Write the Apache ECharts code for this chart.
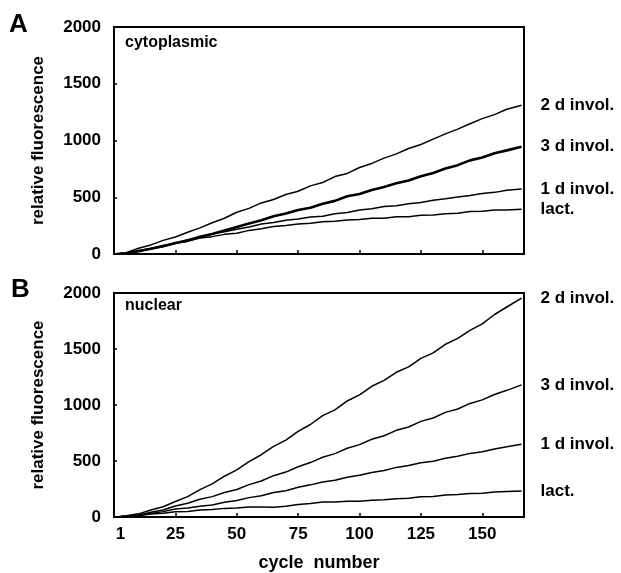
<!DOCTYPE html>
<html><head><meta charset="utf-8">
<script src="https://cdn.jsdelivr.net/npm/echarts@6/dist/echarts.min.js"></script>
<style>html,body{margin:0;padding:0;background:#fff}#c{width:621px;height:573px}</style>
</head><body><div id="c"></div>
<script>
const cycles = [1,5,10,15,20,25,30,35,40,45,50,55,60,65,70,75,80,85,90,95,100,105,110,115,120,125,130,135,140,145,150,155,160,166];
const seriesNames = ['2 d invol.','3 d invol.','1 d invol.','lact.'];
const yTicks = [0,500,1000,1500,2000];
const xTickLabels = ['1','25','50','75','100','125','150'];

// Panel A: cytoplasmic
const cyto2d  = [0,12,50,80,120,150,192,230,275,315,368,402,450,480,524,553,600,630,682,710,762,798,845,882,930,965,1012,1058,1100,1148,1193,1228,1275,1310];
const cyto3d  = [0,6,24,47,68,97,118,152,176,208,238,268,298,333,356,388,408,443,468,508,528,563,590,623,648,685,713,753,783,825,850,888,913,945];
const cyto1d  = [0,8,32,48,75,95,125,148,178,196,218,238,265,278,298,308,325,333,355,366,388,398,418,426,443,453,473,486,503,516,533,543,562,573];
const cytoLact= [0,7,24,47,66,94,113,140,153,173,183,208,222,243,252,265,270,285,288,300,303,315,316,328,328,341,343,355,360,374,376,388,388,395];

// Panel B: nuclear
const nuc2d  = [0,12,28,63,92,138,182,244,296,364,421,494,556,630,686,765,826,905,956,1036,1090,1167,1220,1292,1340,1416,1465,1542,1595,1667,1725,1808,1875,1955];
const nuc3d  = [0,6,18,43,62,98,122,158,182,219,246,289,321,369,401,449,486,534,566,614,646,694,726,774,804,854,884,934,964,1014,1046,1094,1131,1180];
const nuc1d  = [0,6,14,32,48,72,80,97,108,131,148,173,190,218,235,265,287,313,329,355,372,398,415,443,459,485,497,525,542,568,582,608,627,650];
const nucLact= [0,6,13,27,33,47,50,62,66,77,80,90,90,86,96,112,120,134,133,140,140,150,153,164,168,180,183,197,200,210,213,224,228,232];

const FONT = '"Liberation Sans", Arial, sans-serif';
const pair = arr => cycles.map((c,i)=>[c,arr[i]]);

function mkSeries(name, arr, idx, width){
  return {
    type:'line', name:name, xAxisIndex:idx, yAxisIndex:idx,
    data: pair(arr), showSymbol:false, symbol:'none', animation:false,
    lineStyle:{color:'#000', width:width},
    endLabel:{show:true, formatter:name, distance:19, color:'#000',
      fontFamily:FONT, fontWeight:'bold', fontSize:17}
  };
}

function xAxis(idx, showLabels){
  return {
    type:'value', gridIndex:idx, min:0, max:167, interval:25,
    axisLine:{show:true, lineStyle:{color:'#000', width:2}},
    axisTick:{show:true, inside:true, length:4, lineStyle:{color:'#000', width:1.5}},
    splitLine:{show:false},
    axisLabel:{show:showLabels, margin:9, color:'#000', fontFamily:FONT, fontWeight:'bold', fontSize:17,
      showMaxLabel:false,
      formatter: v => { if (v===0) return '{one|'+xTickLabels[0]+'}'; const k=v/25; return Number.isInteger(k)&&k<xTickLabels.length ? xTickLabels[k] : ''; },
      rich:{one:{padding:[0,0,0,13], color:'#000', fontFamily:FONT, fontWeight:'bold', fontSize:17}}},
    name: showLabels ? 'cycle  number' : '',
    nameLocation:'middle', nameGap:37,
    nameTextStyle:{color:'#000', fontFamily:FONT, fontWeight:'bold', fontSize:18}
  };
}
function yAxis(idx){
  return {
    type:'value', gridIndex:idx, min:yTicks[0], max:yTicks[yTicks.length-1], interval:500,
    axisLine:{show:true, lineStyle:{color:'#000', width:2}},
    axisTick:{show:true, inside:true, length:3, lineStyle:{color:'#000', width:1.5}},
    splitLine:{show:false},
    axisLabel:{margin:13, color:'#000', fontFamily:FONT, fontWeight:'bold', fontSize:17,
      formatter: v => String(v)},
    name:'relative fluorescence', nameLocation:'middle', nameGap:67,
    nameTextStyle:{color:'#000', fontFamily:FONT, fontWeight:'bold', fontSize:17}
  };
}

const chart = echarts.init(document.getElementById('c'), null, {renderer:'canvas'});
chart.setOption({
  backgroundColor:'#fff',
  animation:false,
  grid:[
    {left:114, top:27, width:410, height:227, show:true, borderColor:'#000', borderWidth:2, backgroundColor:'transparent'},
    {left:114, top:293, width:410, height:225, show:true, borderColor:'#000', borderWidth:2, backgroundColor:'transparent'}
  ],
  xAxis:[xAxis(0,false), xAxis(1,true)],
  yAxis:[yAxis(0), yAxis(1)],
  series:[
    mkSeries(seriesNames[0], cyto2d, 0, 1.5),
    mkSeries(seriesNames[1], cyto3d, 0, 2.6),
    mkSeries(seriesNames[2], cyto1d, 0, 1.5),
    mkSeries(seriesNames[3], cytoLact, 0, 1.5),
    mkSeries(seriesNames[0], nuc2d, 1, 1.5),
    mkSeries(seriesNames[1], nuc3d, 1, 1.5),
    mkSeries(seriesNames[2], nuc1d, 1, 1.5),
    mkSeries(seriesNames[3], nucLact, 1, 1.5)
  ],
  graphic:[
    {type:'text', left:9, top:12, style:{text:'A', fill:'#000', font:'bold 26px '+FONT}},
    {type:'text', left:11, top:277, style:{text:'B', fill:'#000', font:'bold 26px '+FONT}},
    {type:'text', left:125, top:35, style:{text:'cytoplasmic', fill:'#000', font:'bold 16px '+FONT}},
    {type:'text', left:125, top:298, style:{text:'nuclear', fill:'#000', font:'bold 16px '+FONT}}
  ]
});
</script></body></html>
